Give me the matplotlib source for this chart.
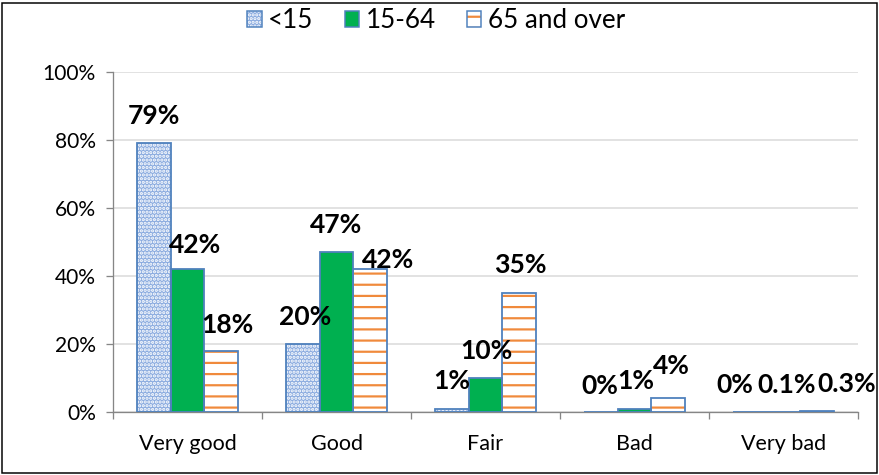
"""
Self-rated health by age group, grouped bar chart with patterned bars.
"""
import matplotlib
matplotlib.use("Agg")
import matplotlib.pyplot as plt
import numpy as np
from matplotlib.patches import Patch, Rectangle
from matplotlib.legend_handler import HandlerTuple

# Data
CATEGORIES = ["Very good", "Good", "Fair", "Bad", "Very bad"]
SERIES = ["<15", "15-64", "65 and over"]
UNDER_15 = [79, 20, 1, 0, 0]
AGE_15_64 = [42, 47, 10, 1, 0.1]
OVER_65 = [18, 42, 35, 4, 0.3]
Y_TICKS = [0, 20, 40, 60, 80, 100]

DPI = 67
W, H = 879, 475


def px(p):
    """pixels -> points at our dpi"""
    return p * 72.0 / DPI


plt.rcParams["font.family"] = ["Lato", "DejaVu Sans"]
plt.rcParams["hatch.linewidth"] = px(2.2)

BLUE_EDGE = "#4f81bd"
DOT_FACE = "#8aabdf"
GREEN = "#00b050"
ORANGE = "#f08a3c"

fig = plt.figure(figsize=(W / DPI, H / DPI), dpi=DPI)
ax = fig.add_axes([113 / W, 1 - 412 / H, 745 / W, 340 / H])

x = np.arange(len(CATEGORIES))
width = 0.225

# style for each series: face, hatch, hatch colour
styles = [
    (DOT_FACE, "...", "white"),
    (GREEN, None, GREEN),
    ("white", "-", ORANGE),
]
series_vals = [UNDER_15, AGE_15_64, OVER_65]

handles = []
for i, (vals, (face, hatch, hcol)) in enumerate(zip(series_vals, styles)):
    pos = x + (i - 1) * width
    # fill + hatch (hatch takes edge colour, edge itself not drawn)
    ax.bar(pos, vals, width, color=face, hatch=hatch, edgecolor=hcol,
           linewidth=0, zorder=2)
    # outline
    ax.bar(pos, vals, width, fill=False, edgecolor=BLUE_EDGE,
           linewidth=px(1.8), zorder=3)
    handles.append((Patch(facecolor=face, hatch=hatch, edgecolor=hcol, linewidth=0),
                    Patch(fill=False, edgecolor=BLUE_EDGE, linewidth=px(1.5))))

# data labels, nudged (px) the way the original had them
nudge = [
    [(0, 19), (2, 19), (0, 20), (-1, 18), (-15, 19)],
    [(8, 16), (0, 19), (1, 19), (1, 20), (3, 19)],
    [(6, 18), (18, 1), (1, 20), (3, 24), (30, 19)],
]
for i, vals in enumerate(series_vals):
    for j, v in enumerate(vals):
        dx, dy = nudge[i][j]
        ax.annotate(f"{v:g}%", (x[j] + (i - 1) * width, v),
                    xytext=(px(dx), px(dy)), textcoords="offset points",
                    ha="center", va="baseline", fontsize=px(26.5),
                    fontweight="bold", color="black", zorder=4)

ax.set_xlim(-0.5, len(CATEGORIES) - 0.5)
ax.set_ylim(0, 100)
ax.set_yticks(Y_TICKS)
ax.set_yticklabels([f"{t}%" for t in Y_TICKS])
ax.set_xticks(x)
ax.set_xticklabels(CATEGORIES)
ax.set_xticks(np.arange(len(CATEGORIES) + 1) - 0.5, minor=True)

ax.tick_params(axis="x", which="major", length=0, pad=px(22),
               labelsize=px(21.5))
ax.tick_params(axis="x", which="minor", length=px(7), width=px(1.3),
               color="#868686")
ax.tick_params(axis="y", length=px(7), width=px(1.3), color="#868686",
               pad=px(10), labelsize=px(21))

ax.grid(axis="y", color="#d9d9d9", linewidth=px(1.5), zorder=0)
ax.set_axisbelow(True)
for side in ["top", "right"]:
    ax.spines[side].set_visible(False)
for side in ["left", "bottom"]:
    ax.spines[side].set_color("#868686")
    ax.spines[side].set_linewidth(px(1.3))

fig.legend(handles, SERIES, handler_map={tuple: HandlerTuple(ndivide=1, pad=0)},
           loc="center", bbox_to_anchor=(436 / W, 1 - 21 / H), ncol=3,
           frameon=False, fontsize=px(26), handlelength=0.55, handleheight=0.55,
           handletextpad=0.25, columnspacing=1.2, borderpad=0)

# thin frame round the whole chart
fig.patches.append(Rectangle((2 / W, 2 / H), 1 - 4 / W, 1 - 5 / H,
                             transform=fig.transFigure, fill=False,
                             edgecolor="black", linewidth=px(1.5)))

fig.savefig("out.png", dpi=DPI)
